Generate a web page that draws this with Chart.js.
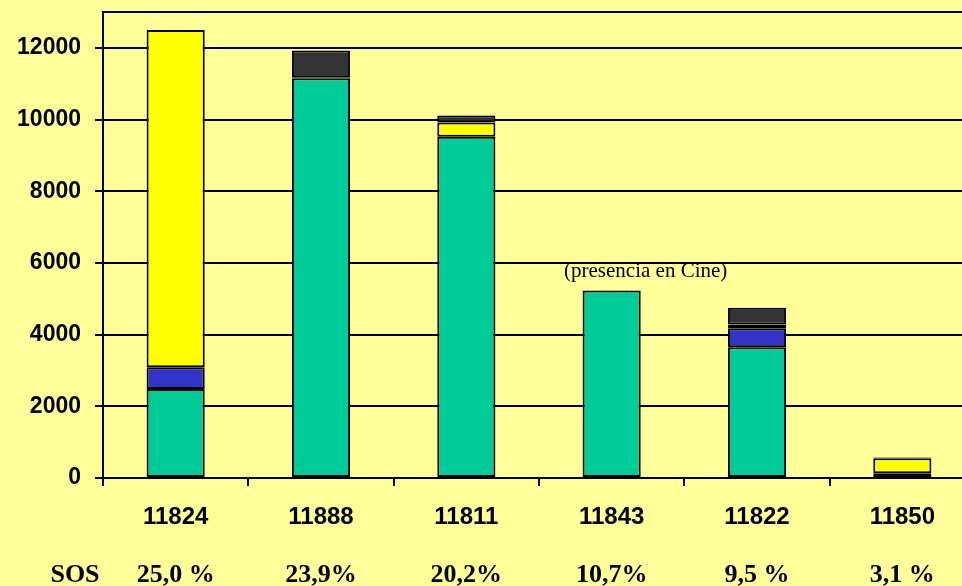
<!DOCTYPE html>
<html>
<head>
<meta charset="utf-8">
<script src="https://cdn.jsdelivr.net/npm/chart.js@4/dist/chart.umd.min.js"></script>
<style>
  html, body { margin: 0; padding: 0; background: #FFFF99; overflow: hidden; }
  #wrap { width: 976px; height: 586px; }
</style>
</head>
<body>
<div id="wrap"><canvas id="myChart" width="976" height="586"></canvas></div>
<script>
const categories = ['11824', '11888', '11811', '11843', '11822', '11850'];
const sosLabels = ['25,0 %', '23,9%', '20,2%', '10,7%', '9,5 %', '3,1 %'];

const greenValues = [2480, 11150, 9520, 5230, 3650, 130];
const blueValues = [610, 30, null, null, 525, null];
const yellowValues = [9410, null, 395, null, 110, 420];
const darkValues = [null, 745, 195, null, 465, 25];

const yTicks = [0, 2000, 4000, 6000, 8000, 10000, 12000];
const yMax = 13000;

const noteText = '(presencia en Cine)';
const noteIndex = 3;
const noteValue = 5750;

const serif = '"Liberation Serif", "Times New Roman", serif';
const sans = '"Liberation Sans", Arial, sans-serif';
const sosPadding = 30;

// extra texts: "SOS" row header and the note above 11843
const extraText = {
  id: 'extraText',
  afterDraw(chart) {
    const ctx = chart.ctx;
    const x = chart.scales.x;
    const y = chart.scales.y;
    const x2 = chart.scales.x2;
    ctx.save();
    ctx.fillStyle = '#000';
    ctx.textBaseline = 'middle';
    ctx.textAlign = 'center';
    ctx.font = 'bold 26px ' + serif;
    ctx.fillText('SOS', 75, x2.top + sosPadding + 15.6);
    ctx.font = '21px ' + serif;
    ctx.fillText(noteText, x.getPixelForValue(noteIndex) + 34, y.getPixelForValue(noteValue));
    ctx.restore();
  }
};

const segment = (data, color) => ({
  data: data,
  backgroundColor: color,
  borderColor: '#000',
  borderWidth: 2,
  borderSkipped: false,
  categoryPercentage: 1,
  barPercentage: 0.4,
});

const ctx = document.getElementById('myChart').getContext('2d');
new Chart(ctx, {
  type: 'bar',
  data: {
    labels: categories,
    datasets: [
      segment(greenValues, '#00CC99'),
      segment(blueValues, '#3333CC'),
      segment(yellowValues, '#FFFF00'),
      segment(darkValues, '#333333'),
    ],
  },
  options: {
    responsive: false,
    animation: false,
    layout: {
      padding: { left: 0, right: 1, top: 12, bottom: 0 },
    },
    plugins: {
      legend: { display: false },
      tooltip: { enabled: false },
    },
    scales: {
      x: {
        stacked: true,
        offset: true,
        afterFit(scale) {
          scale.height = 52;
        },
        grid: {
          offset: true,
          drawOnChartArea: false,
          drawTicks: true,
          tickLength: 8,
          color: '#000',
          lineWidth: 2,
        },
        border: { display: true, color: '#000', width: 2 },
        ticks: {
          color: '#000',
          padding: 17,
          font: { family: sans, size: 24, weight: 'bold' },
          maxRotation: 0,
        },
      },
      x2: {
        type: 'category',
        position: 'bottom',
        labels: sosLabels,
        offset: true,
        afterFit(scale) {
          scale.height = 56;
        },
        grid: { display: false, drawTicks: false },
        border: { display: false },
        ticks: {
          color: '#000',
          padding: sosPadding,
          font: { family: serif, size: 26, weight: 'bold' },
          maxRotation: 0,
        },
      },
      y: {
        stacked: true,
        min: 0,
        max: yMax,
        afterBuildTicks(scale) {
          scale.ticks = yTicks.concat([yMax]).map((v) => ({ value: v }));
        },
        afterFit(scale) {
          scale.width = 103;
          scale.paddingTop = 0;
          scale.paddingBottom = 0;
        },
        grid: {
          color: '#000',
          lineWidth: 2,
          drawTicks: true,
          tickLength: 8,
          tickColor: (c) => (c.tick && c.tick.value === yMax ? 'rgba(0,0,0,0)' : '#000'),
        },
        border: { display: true, color: '#000', width: 2 },
        ticks: {
          color: '#000',
          padding: 14,
          font: { family: sans, size: 23, weight: 'bold' },
          callback: (value) => (value === yMax ? '' : String(value)),
        },
      },
    },
  },
  plugins: [extraText],
});
</script>
</body>
</html>
